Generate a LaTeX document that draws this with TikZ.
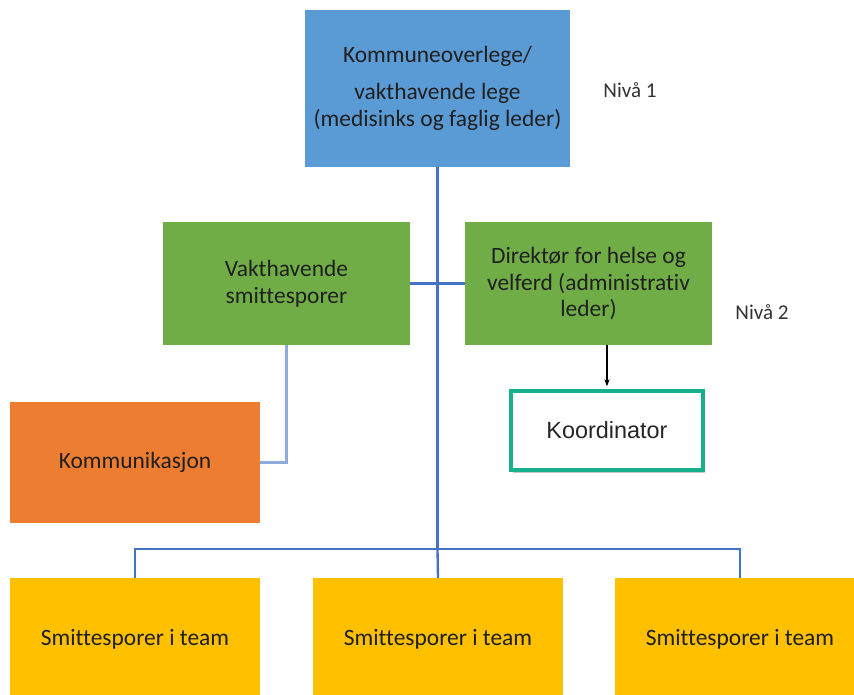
\documentclass[tikz,border=0pt]{standalone}
\usepackage{fontspec}
\setmainfont{Carlito}[Ligatures=NoCommon]
\newfontfamily\arialfont{Liberation Sans}
\usetikzlibrary{positioning, shadows, arrows.meta}
\definecolor{toppblue}{RGB}{91,155,213}
\definecolor{nivagreen}{RGB}{112,173,71}
\definecolor{kommorange}{RGB}{237,125,49}
\definecolor{teamyellow}{RGB}{255,192,0}
\definecolor{linjeblue}{RGB}{68,114,196}
\definecolor{lyslinje}{RGB}{143,170,220}
\definecolor{koordteal}{RGB}{22,176,140}

\begin{document}
\begin{tikzpicture}[x=0.03cm, y=-0.03cm,
    boks/.style={rectangle, inner sep=2pt, align=center, text=black!88,
        font=\fontsize{20}{23}\selectfont},
    nivaa/.style={text=black!80, font=\fontsize{18}{21}\selectfont},
    linje/.style={linjeblue, line width=2pt}]
    % Frame
    \useasboundingbox (0,0) rectangle (854,695);

    % Level 1
    \node[boks, fill=toppblue, minimum width=7.95cm, minimum height=4.71cm]
        (topp) at (437.5,88.5) {Kommuneoverlege/\\[9pt] vakthavende lege\\ (medisinks og faglig leder)};
    \node[nivaa] (niva1) at (630,90) {Nivå 1};

    % Level 2
    \node[boks, fill=nivagreen, minimum width=7.41cm, minimum height=3.69cm]
        (vakt) at (286.5,283.5) {Vakthavende\\ smittesporer};
    \node[boks, fill=nivagreen, minimum width=7.41cm, minimum height=3.69cm]
        (dir) at (588.5,283.5) {Direktør for helse og\\ velferd (administrativ\\ leder)};
    \node[nivaa] (niva2) at (762,312) {Nivå 2};

    % Side boxes
    \node[boks, fill=kommorange, minimum width=7.5cm, minimum height=3.63cm]
        (komm) at (135,462.5) {Kommunikasjon};
    \node[rectangle, draw=koordteal, line width=4pt, fill=white,
        minimum width=5.76cm, minimum height=2.37cm,
        drop shadow={shadow xshift=1.5pt, shadow yshift=-2.5pt, opacity=0.45},
        font=\arialfont\fontsize{20}{23}\selectfont, text=black!85]
        (koord) at (607,430.5) {Koordinator};

    % Teams
    \node[boks, fill=teamyellow, minimum width=7.5cm, minimum height=3.66cm]
        (team1) at (135,639) {Smittesporer i team};
    \node[boks, fill=teamyellow, minimum width=7.5cm, minimum height=3.66cm]
        (team2) at (438,639) {Smittesporer i team};
    \node[boks, fill=teamyellow, minimum width=7.5cm, minimum height=3.66cm]
        (team3) at (740,639) {Smittesporer i team};

    % Connectors
    \coordinate (gren) at (437.5,549);
    \draw[linje] (topp.south) -- (gren);
    \draw[linje] (vakt.east) -- (dir.west);
    \draw[linje] (team1.north) -- (team1.north |- gren) -- (team3.north |- gren) -- (team3.north);
    \draw[linje] (gren) -- (team2.north);
    \draw[lyslinje, line width=2pt] (vakt.south) |- (komm.east);
    \draw[-{Stealth[length=6pt]}, line width=1.3pt, shorten >=2pt]
        (dir.south -| koord.north) -- (koord.north);
\end{tikzpicture}
\end{document}
